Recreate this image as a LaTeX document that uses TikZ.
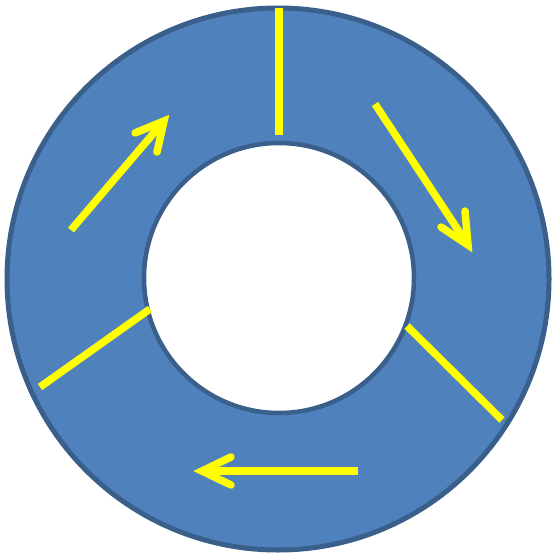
\documentclass[tikz,border=0pt]{standalone}
\usetikzlibrary{calc}
\definecolor{ringfill}{HTML}{4F81BD}
\definecolor{ringedge}{HTML}{3A5F8B}
\definecolor{mark}{HTML}{FFFF00}
\begin{document}
\begin{tikzpicture}[x=1pt,y=-1pt,
  divider/.style={draw=mark,line width=7.5pt,line cap=butt},
  shaft/.style={draw=mark,line width=7.5pt,line cap=butt},
  barb/.style={draw=mark,line width=7.5pt,line cap=round,line join=miter,miter limit=10}]
\useasboundingbox (0,0) rectangle (551,556);
% ring
\coordinate (oc) at (278,279);
\coordinate (ic) at (279,278);
\fill[ringfill,even odd rule] (oc) circle[radius=271] (ic) circle[radius=135];
\draw[ringedge,line width=5pt] (oc) circle[radius=271];
\draw[ringedge,line width=4.5pt] (ic) circle[radius=135];
% dividers
\coordinate (d1a) at (279,8);   \coordinate (d1b) at (279,135);
\coordinate (d2a) at (407,326); \coordinate (d2b) at (502,420);
\coordinate (d3a) at (150,309); \coordinate (d3b) at (40,387);
\draw[divider] (d1a) -- (d1b);
\draw[divider] (d2a) -- (d2b);
\draw[divider] (d3a) -- (d3b);
% arrow top-left
\coordinate (a1t) at (71,230);  \coordinate (a1h) at (164,121);
\coordinate (a1p) at (135,133); \coordinate (a1q) at (157,152);
\draw[shaft] (a1t) -- ($(a1h)!5pt!(a1t)$);
\draw[barb] (a1p) -- (a1h) -- (a1q);
% arrow right
\coordinate (a2t) at (375,104); \coordinate (a2h) at (468,245);
\coordinate (a2p) at (465,211); \coordinate (a2q) at (441,227);
\draw[shaft] (a2t) -- ($(a2h)!5pt!(a2t)$);
\draw[barb] (a2p) -- (a2h) -- (a2q);
% arrow bottom
\coordinate (a3t) at (358,471); \coordinate (a3h) at (202,471);
\coordinate (a3p) at (231,457); \coordinate (a3q) at (231,485);
\draw[shaft] (a3t) -- ($(a3h)!5pt!(a3t)$);
\draw[barb] (a3p) -- (a3h) -- (a3q);
\end{tikzpicture}
\end{document}
